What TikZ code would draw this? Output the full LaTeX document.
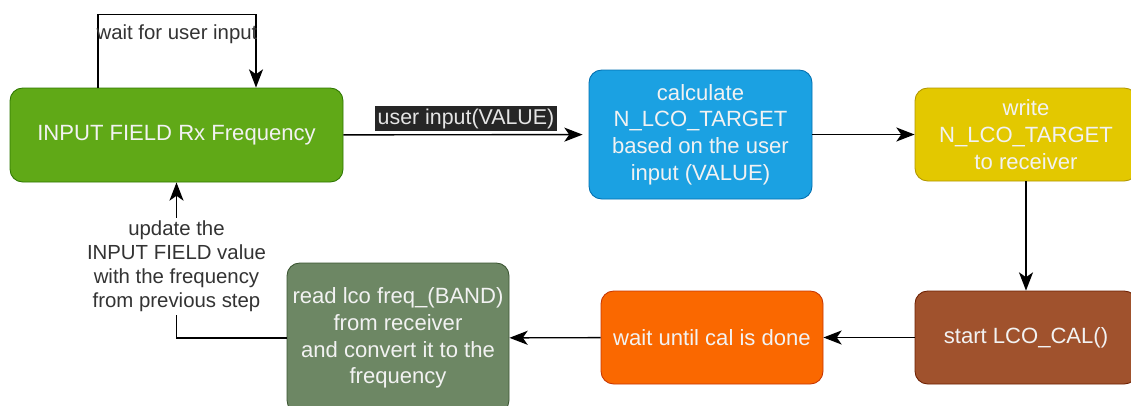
\documentclass[tikz,border=0pt]{standalone}
\usepackage{fontspec}
\setmainfont{Liberation Sans}
\usetikzlibrary{arrows.meta,positioning}

\definecolor{fieldgreen}{HTML}{60A917}
\definecolor{fieldgreenline}{HTML}{2D7600}
\definecolor{calcblue}{HTML}{1BA1E2}
\definecolor{calcblueline}{HTML}{006EAF}
\definecolor{writeyellow}{HTML}{E3C800}
\definecolor{writeyellowline}{HTML}{B09500}
\definecolor{startbrown}{HTML}{A0522D}
\definecolor{startbrownline}{HTML}{6D1F00}
\definecolor{waitorange}{HTML}{FA6800}
\definecolor{waitorangeline}{HTML}{C73500}
\definecolor{readgreen}{HTML}{6D8764}
\definecolor{readgreenline}{HTML}{3A5431}

\begin{document}
\begin{tikzpicture}[
    flow/.style={-{Stealth[length=13pt,width=10pt,inset=3.5pt]}, line width=1pt},
    box/.style={rectangle, rounded corners=9pt, line width=0.6pt, text=white!95!black, align=center, inner sep=2pt, font=\fontsize{15.7}{19}\selectfont},
    lbl/.style={text=black!80, align=center, inner sep=2pt, font=\fontsize{14.5}{17}\selectfont}
  ]
    \useasboundingbox (0,0) rectangle (28.275,-10.125);

    \node[box, fill=fieldgreen, draw=fieldgreenline, minimum width=8.325cm, minimum height=2.35cm] (input) at (4.4125,-3.375) {INPUT FIELD Rx Frequency};
    \node[box, fill=calcblue, draw=calcblueline, minimum width=5.575cm, minimum height=3.225cm] (calc) at (17.5125,-3.3625) {calculate\\N\_LCO\_TARGET\\based on the user\\input (VALUE)};
    \node[box, fill=writeyellow, draw=writeyellowline, minimum width=5.55cm, minimum height=2.325cm] (write) at (25.65,-3.3625) {write\\N\_LCO\_TARGET\\to receiver};
    \node[box, fill=startbrown, draw=startbrownline, minimum width=5.55cm, minimum height=2.325cm] (start) at (25.65,-8.4375) {start LCO\_CAL()};
    \node[box, fill=waitorange, draw=waitorangeline, minimum width=5.55cm, minimum height=2.325cm] (wait) at (17.8,-8.4375) {wait until cal is done};
    \node[box, fill=readgreen, draw=readgreenline, minimum width=5.55cm, minimum height=3.75cm] (read) at (9.95,-8.45) {read lco freq\_(BAND)\\from receiver\\and convert it to the\\frequency};

    \draw[flow] ([xshift=-1.9625cm]input.north) -- ++(0,1.825) -| node[lbl, pos=0.25, yshift=-0.48cm] (waitlbl) {wait for user input} ([xshift=1.9875cm]input.north);
    \draw[flow, shorten >=0.15cm] (input) -- node[midway, yshift=0.4cm, fill=black!85, text=white!90!black, inner sep=2pt, font=\fontsize{15.2}{17}\selectfont] (vallbl) {user input(VALUE)} (calc);
    \draw[flow] (calc) -- (write);
    \draw[flow] (write) -- (start);
    \draw[flow] (start) -- (wait);
    \draw[flow] (wait) -- (read);
    \draw[flow] (read.west) -| node[lbl, pos=0.73, fill=white] (updlbl) {update the\\INPUT FIELD value\\with the frequency\\from previous step} (input.south);
\end{tikzpicture}
\end{document}
